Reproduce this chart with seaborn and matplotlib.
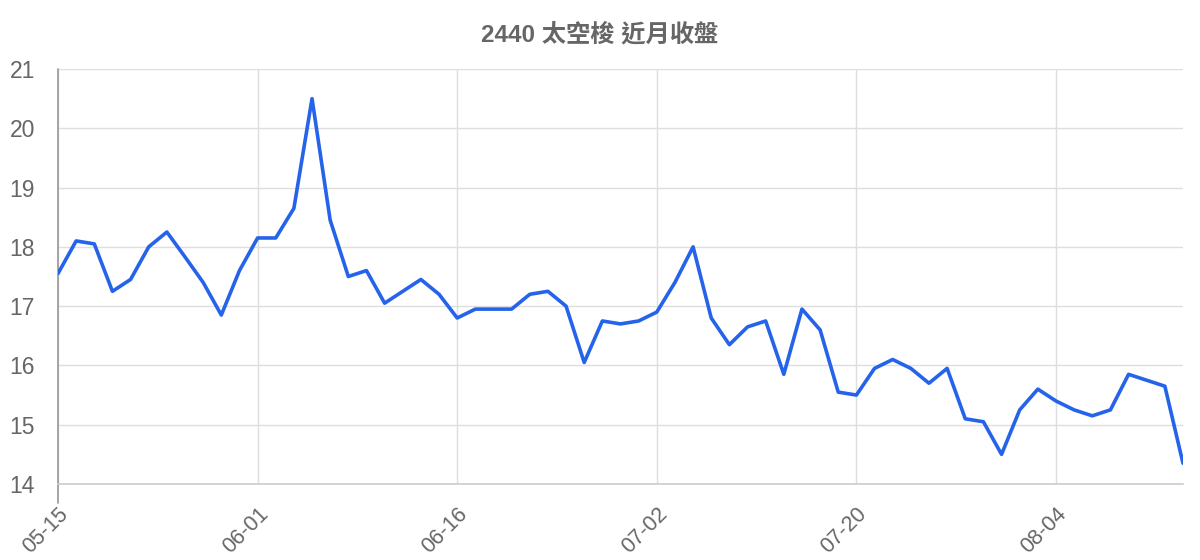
import matplotlib
matplotlib.use("Agg")
import matplotlib.pyplot as plt
import seaborn as sns
import pandas as pd

# ---- data ----
close_prices = [
    17.55, 18.10, 18.05, 17.25, 17.45, 18.00, 18.25, 17.83, 17.40, 16.85,
    17.60, 18.15, 18.15, 18.65, 20.50, 18.45, 17.50, 17.60, 17.05, 17.25,
    17.45, 17.20, 16.80, 16.95, 16.95, 16.95, 17.20, 17.25, 17.00, 16.05,
    16.75, 16.70, 16.75, 16.90, 17.40, 18.00, 16.80, 16.35, 16.65, 16.75,
    15.85, 16.95, 16.60, 15.55, 15.50, 15.95, 16.10, 15.95, 15.70, 15.95,
    15.10, 15.05, 14.50, 15.25, 15.60, 15.40, 15.25, 15.15, 15.25, 15.85,
    15.75, 15.65, 14.35,
]
tick_index = [0, 11, 22, 33, 44, 55]
tick_labels = ["05-15", "06-01", "06-16", "07-02", "07-20", "08-04"]
y_ticks = [14, 15, 16, 17, 18, 19, 20, 21]
title = "2440 太空梭 近月收盤"

df = pd.DataFrame({"idx": range(len(close_prices)), "close": close_prices})

# ---- style ----
sns.set_theme(style="white")
plt.rcParams["font.family"] = ["Liberation Sans", "Noto Sans CJK TC", "DejaVu Sans"]

W, H = 1200, 560
fig = plt.figure(figsize=(W / 100, H / 100), dpi=100)
ax = fig.add_axes([58 / W, 1 - 484 / H, (1183 - 58) / W, (484 - 69) / H])

sns.lineplot(data=df, x="idx", y="close", ax=ax, color="#2563eb",
             linewidth=2.6, zorder=3)

ax.set_xlim(0, len(close_prices) - 1)
ax.set_ylim(14, 21)
ax.set_xticks(tick_index)
ax.set_xticklabels(tick_labels, rotation=45, ha="right", va="top",
                   rotation_mode="anchor", fontsize=15.5, color="#666666")
ax.set_yticks(y_ticks)
ax.set_yticklabels([str(v) for v in y_ticks], fontsize=16.5, color="#666666")
ax.set_xlabel("")
ax.set_ylabel("")

ax.grid(True, axis="both", color="#dedede", linewidth=1.0, zorder=0)
ax.tick_params(axis="x", length=13, width=1.0, color="#dedede", pad=1)
ax.tick_params(axis="y", length=14.5, width=1.0, color="#dedede", pad=2)

for side in ["top", "right"]:
    ax.spines[side].set_visible(False)
ax.spines["bottom"].set_color("#cccccc")
ax.spines["bottom"].set_linewidth(1.2)
ax.spines["left"].set_visible(False)
ax.axvline(0, ymin=-19 / 415, ymax=1, color="#9e9e9e", linewidth=1.3,
           clip_on=False, zorder=2)

fig.text(600 / W, 1 - 35 / H, title, ha="center", va="center",
         fontsize=17.5, fontweight="bold", color="#666666")

fig.savefig("out.png", dpi=100, facecolor="white")
